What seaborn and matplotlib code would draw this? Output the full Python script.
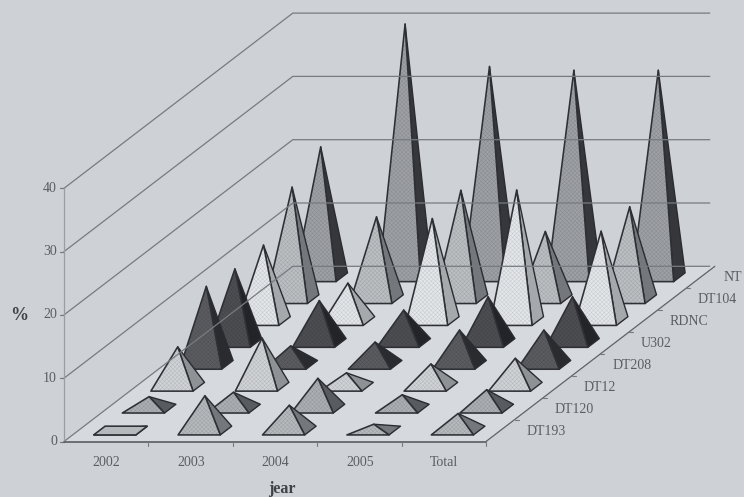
#3D style pyramid chart, projected by hand because mplot3d cant do this oblique view
import matplotlib
matplotlib.use('Agg')
import matplotlib.pyplot as plt
from matplotlib.patches import Polygon
import seaborn as sns

years = ['2002', '2003', '2004', '2005', 'Total']
phage_types = ['DT193', 'DT120', 'DT12', 'DT208', 'U302', 'RDNC', 'DT104', 'NT']
y_ticks = [0, 10, 20, 30, 40]

# one list per phage type, same order as years
dt193 = [0.4, 5.5, 4.0, 1.0, 2.7]
dt120 = [1.9, 2.6, 4.8, 2.2, 3.0]
dt12 = [6.3, 7.7, 2.2, 3.6, 4.5]
dt208 = [12.4, 3.0, 3.6, 5.5, 5.5]
u302 = [11.7, 6.7, 5.2, 7.3, 7.3]
rdnc = [12.0, 6.0, 16.2, 20.7, 14.2]
dt104 = [17.7, 13.0, 17.2, 10.7, 14.6]
nt = [20.6, 40.0, 33.3, 32.7, 32.7]
all_values = [dt193, dt120, dt12, dt208, u302, rdnc, dt104, nt]

front_greys = ['#b6b9bc', '#abaeb2', '#d0d3d6', '#5a5c60', '#4c4e52', '#e4e7ea', '#bcbfc2', '#9da0a4']
side_greys = ['#74777b', '#585b5f', '#8f9295', '#2a2b2e', '#232427', '#a6a9ac', '#74777b', '#36373b']

BG = '#ced2d6'
LINE = '#777b7f'
TXT = '#5a5d61'

sns.set_theme(style='white', rc={'hatch.linewidth': 0.3, 'figure.facecolor': BG, 'axes.facecolor': BG})
plt.rcParams['font.family'] = ['Liberation Serif', 'DejaVu Serif']

# projection settings
X0, Y0 = 64.0, 441.5      # front left corner of the floor
CELL_W = 84.4             # width of one year
DEPTH_X, DEPTH_Y = 28.6, -21.9   # shift per phage type
UNIT = 6.33               # height of 1 %


def project(col, row, val=0.0):
    x = X0 + col * CELL_W + row * DEPTH_X
    y = Y0 + row * DEPTH_Y - val * UNIT
    return x, y


def draw_pyramid(ax, col, row, val, front, side):
    c0, c1 = col + 0.25, col + 0.75
    r0, r1 = row + 0.3, row + 0.7
    fl = project(c0, r0)
    fr = project(c1, r0)
    br = project(c1, r1)
    bl = project(c0, r1)
    apex = project(col + 0.5, row + 0.5, val)
    ax.add_patch(Polygon([fr, br, apex], facecolor=side, edgecolor='#2a2c31', lw=1.0, joinstyle='round'))
    # faint dither on the front face, hatch is drawn in edge color
    dither = sns.blend_palette([front, '#000000'], 8)[1]
    ax.add_patch(Polygon([fl, fr, apex], facecolor=front, edgecolor=dither, lw=0, hatch='xxxxxxxx'))
    ax.add_patch(Polygon([fl, fr, apex], fill=False, edgecolor='#2e3036', lw=1.15, joinstyle='round'))
    if val < 1:
        ax.add_patch(Polygon([fl, fr, br, bl], facecolor=front, edgecolor='#2e3036', lw=1.15))


fig = plt.figure(figsize=(7.44, 4.97), dpi=100)
ax = fig.add_axes([0, 0, 1, 1])
ax.set_xlim(0, 744)
ax.set_ylim(497, 0)
ax.axis('off')

n_col, n_row = len(years), len(phage_types)

# floor
ax.add_patch(Polygon([project(0, 0), project(n_col, 0), project(n_col, n_row), project(0, n_row)],
                     facecolor='#d6d9dd', edgecolor='none'))

# walls
for v in y_ticks:
    x1, y1 = project(0, 0, v)
    x2, y2 = project(0, n_row, v)
    x3, y3 = project(n_col, n_row, v)
    ax.plot([x1, x2, x3 - 5], [y1, y2, y3], color=LINE, lw=0.9)
    ax.plot([x1 - 4, x1], [y1, y1], color=LINE, lw=0.9)
    ax.text(x1 - 7, y1, str(v), ha='right', va='center', fontsize=10, color=TXT)

x1, y1 = project(0, 0, 0)
x2, y2 = project(0, 0, y_ticks[-1])
ax.plot([x1, x2], [y1, y2], color='#9a9ea2', lw=0.9)

# floor edges and ticks
ax.plot(*zip(project(0, 0), project(n_col, 0)), color='#505357', lw=1.1)
ax.plot(*zip(project(n_col, 0), project(n_col, n_row)), color='#5f6266', lw=0.9)
for c in range(1, n_col + 1):
    x, y = project(c, 0)
    ax.plot([x, x], [y, y + 4], color=LINE, lw=0.8)
for r in range(1, n_row):
    x, y = project(n_col, r)
    ax.plot([x, x + 4], [y, y], color=LINE, lw=0.8)

for c, year in enumerate(years):
    x, y = project(c + 0.5, 0)
    ax.text(x + 0.5, y + 20.5, year, ha='center', va='center', fontsize=10, color=TXT)

for r, name in enumerate(phage_types):
    x, y = project(n_col, r + 0.5)
    # last label sits right at the picture edge, pull it in a little
    shift = 23 if r == n_row - 1 else 26
    ax.text(x + shift, y + 0.5, name, ha='left', va='center', fontsize=10, color=TXT)

# back to front so the nearer pyramids cover the others
for r in range(n_row - 1, -1, -1):
    for c in range(n_col):
        draw_pyramid(ax, c, r, all_values[r][c], front_greys[r], side_greys[r])

ax.text(19, 316, '%', ha='center', va='center', fontsize=13, fontweight='bold', color='#3f4246')
ax.text(282, 489, 'jear', ha='center', va='center', fontsize=11.5, fontweight='bold', color='#3f4246')

sns.despine(fig=fig, left=True, bottom=True)
fig.savefig('out.png', dpi=100, facecolor=BG)
